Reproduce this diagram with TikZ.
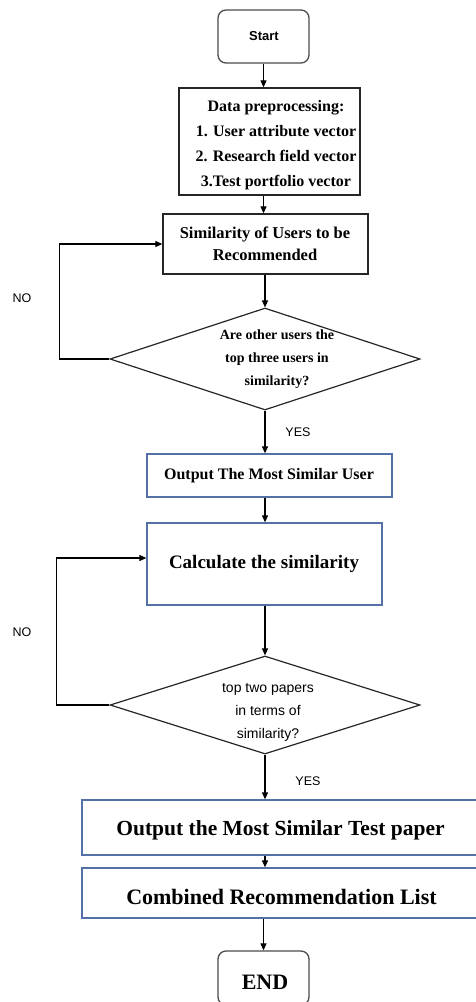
\documentclass[tikz,border=0pt]{standalone}
\usepackage{fontspec}
\setmainfont{Liberation Serif}
\newfontfamily\sansfont{Liberation Sans}
\usetikzlibrary{shapes.geometric,arrows.meta}
\definecolor{boxblue}{RGB}{84,112,166}

\begin{document}
\begin{tikzpicture}[x=1pt,y=-1pt,
  line width=1.2pt,
  arr/.style={-{Triangle[length=7pt,width=6pt]}, line width=1.1pt},
  blackbox/.style={draw=black!85, rectangle, inner sep=0pt, line width=1.3pt},
  bluebox/.style={draw=boxblue, rectangle, inner sep=0pt, line width=1.3pt},
  term/.style={draw=black!70, rectangle, rounded corners=8pt, inner sep=0pt, line width=1.3pt},
  decision/.style={draw=black!85, diamond, inner sep=0pt, line width=1.2pt},
  serif/.style={align=center, inner sep=0pt, font=\fontsize{#1}{#1}\selectfont\bfseries},
  sans/.style={inner sep=0pt, font=\sansfont\fontsize{12.5}{14}\selectfont}
]
\useasboundingbox (0,0) rectangle (476,1002);

% boxes and decisions
\node[term, minimum width=91pt, minimum height=53pt] (start) at (263.5,36.5) {};
\node[blackbox, minimum width=181pt, minimum height=107pt] (data) at (269.5,141.5) {};
\node[blackbox, minimum width=205pt, minimum height=60pt] (sim) at (265.5,244) {};
\node[decision, minimum width=310pt, minimum height=102pt] (d1) at (265,359) {};
\node[bluebox, minimum width=245pt, minimum height=43pt] (outu) at (269.5,475.5) {};
\node[bluebox, minimum width=235pt, minimum height=82pt] (calc) at (264.5,564) {};
\node[decision, minimum width=310pt, minimum height=98pt] (d2) at (265,705) {};
\node[bluebox, minimum width=402pt, minimum height=55pt] (outp) at (283,827.5) {};
\node[bluebox, minimum width=402pt, minimum height=50pt] (comb) at (283,893) {};
\node[term, minimum width=91pt, minimum height=54pt] (end) at (263.5,978) {};

% texts
\node[inner sep=0pt, font=\sansfont\bfseries\fontsize{13}{15}\selectfont] (start-t) at (264,36) {Start};
\node[align=center, inner sep=0pt, font=\fontsize{16}{25}\selectfont\bfseries] (data-t) at (276,145)
  {Data preprocessing:\\1. User attribute vector\\2. Research field vector\\3.Test portfolio vector};
\node[align=center, inner sep=0pt, font=\fontsize{16.5}{22}\selectfont\bfseries] (sim-t) at (265,244)
  {Similarity of Users to be\\Recommended};
\node[align=center, inner sep=0pt, font=\fontsize{14}{23}\selectfont\bfseries] (d1-t) at (277,359)
  {Are other users the\\top three users in\\similarity?};
\node[inner sep=0pt, font=\fontsize{16}{20}\selectfont\bfseries] (outu-t) at (269,475.5) {Output The Most Similar User};
\node[inner sep=0pt, font=\fontsize{19}{23}\selectfont\bfseries] (calc-t) at (264,564) {Calculate the similarity};
\node[align=center, inner sep=0pt, font=\sansfont\fontsize{14}{23}\selectfont] (d2-t) at (268,712)
  {top two papers\\in terms of\\similarity?};
\node[inner sep=0pt, font=\fontsize{21.5}{25}\selectfont\bfseries] (outp-t) at (280.5,830) {Output the Most Similar Test paper};
\node[inner sep=0pt, font=\fontsize{22}{25}\selectfont\bfseries] (comb-t) at (281.5,897) {Combined Recommendation List};
\node[inner sep=0pt, font=\fontsize{22}{25}\selectfont\bfseries] (end-t) at (265,982) {END};

% branch labels
\node[sans] (no1) at (22,298) {NO};
\node[sans] (yes1) at (298,432) {YES};
\node[sans] (no2) at (22,632) {NO};
\node[sans] (yes2) at (308,781) {YES};

% main flow
\draw[arr] (start.south) -- (start.south |- data.north);
\draw[arr] (start.south |- data.south) -- (start.south |- sim.north);
\draw[arr] (d1.north |- sim.south) -- (d1.north);
\draw[arr] (d1.south) -- (d1.south |- outu.north);
\draw[arr] (d1.south |- outu.south) -- (d1.south |- calc.north);
\draw[arr] (d2.north |- calc.south) -- (d2.north);
\draw[arr] (d2.south) -- (d2.south |- outp.north);
\draw[arr] (d2.south |- outp.south) -- (d2.south |- comb.north);
\draw[arr] (end.north |- comb.south) -- (end.north);

% loops back on NO
\draw[arr] (d1.west) -- ++(-50,0) |- (sim.west);
\draw[arr] (d2.west) -- ++(-53,0) |- ([yshift=6pt]calc.west);
\end{tikzpicture}
\end{document}
